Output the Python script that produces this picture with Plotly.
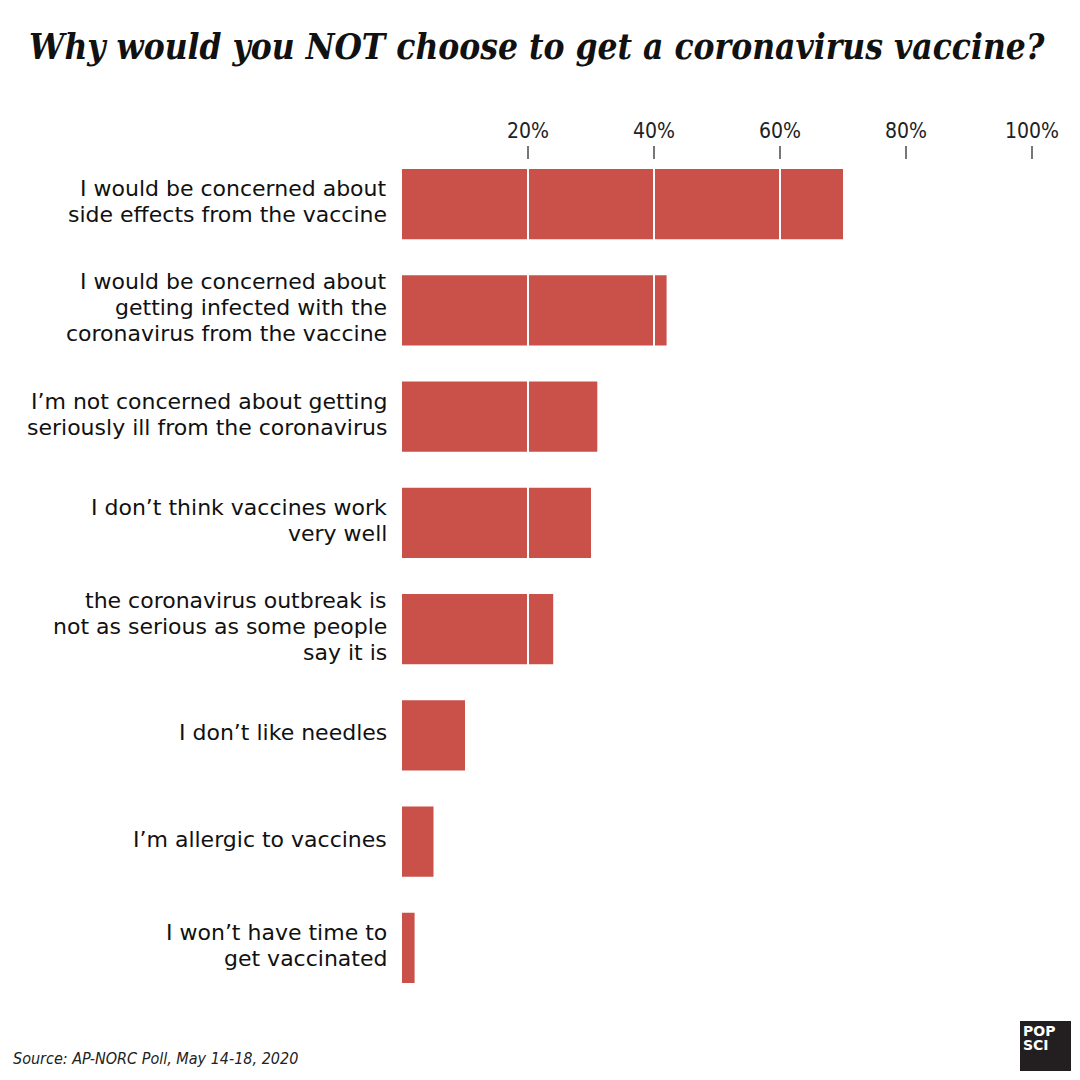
import plotly.graph_objects as go

title = "Why would you NOT choose to get a coronavirus vaccine?"
source = "Source: AP-NORC Poll, May 14-18, 2020"

categories = [
    "I would be concerned about<br>side effects from the vaccine",
    "I would be concerned about<br>getting infected with the<br>coronavirus from the vaccine",
    "I\u2019m not concerned about getting<br>seriously ill from the coronavirus",
    "I don\u2019t think vaccines work<br>very well",
    "the coronavirus outbreak is<br>not as serious as some people<br>say it is",
    "I don\u2019t like needles",
    "I\u2019m allergic to vaccines",
    "I won\u2019t have time to<br>get vaccinated",
]
values = [70, 42, 31, 30, 24, 10, 5, 2]
tick_vals = [20, 40, 60, 80, 100]
tick_text = ["20%", "40%", "60%", "80%", "100%"]

W = H = 1080
L, R, T, B = 402, 48, 160, 79
PW, PH = W - L - R, H - T - B

def px_x(px):
    return (px - L) / PW

def px_y(py):
    return (H - B - py) / PH

BAR = "#C9514A"

fig = go.Figure()
fig.add_trace(go.Bar(
    x=values, y=categories, orientation="h",
    marker=dict(color=BAR, line=dict(width=0)),
    hoverinfo="skip",
))

shapes = []
for v in tick_vals:
    shapes.append(dict(type="line", xref="x", yref="paper", x0=v, x1=v, y0=0, y1=1,
                       line=dict(color="white", width=2), layer="above"))
# logo
shapes.append(dict(type="rect", xref="paper", yref="paper",
                   x0=px_x(1020), x1=px_x(1071), y0=px_y(1071), y1=px_y(1021),
                   fillcolor="#231F20", line=dict(width=0), layer="above"))

annotations = []
LINE = 26
for i, cat in enumerate(categories):
    lines = cat.split("<br>")
    n = len(lines)
    for j, ln in enumerate(lines):
        annotations.append(dict(
            x=0, y=cat, xref="x", yref="y", text=ln, showarrow=False,
            xanchor="right", yanchor="middle", xshift=-13,
            yshift=((n - 1) / 2 - j) * LINE + 2.5,
            font=dict(family="DejaVu Sans", size=22, color="#111"),
        ))

annotations.append(dict(
    x=px_x(537), y=px_y(46), xref="paper", yref="paper", text="<b><i>" + title + "</i></b>",
    showarrow=False, xanchor="center", yanchor="middle",
    font=dict(family="DejaVu Serif Condensed", size=35, color="#111"),
))
annotations.append(dict(
    x=px_x(11), y=px_y(1058), xref="paper", yref="paper", text="<i>" + source + "</i>",
    showarrow=False, xanchor="left", yanchor="middle",
    font=dict(family="DejaVu Sans Condensed", size=16, color="#222"),
))
for txt, py in (("POP", 1031), ("SCI", 1045)):
    annotations.append(dict(
        x=px_x(1021), y=px_y(py), xref="paper", yref="paper", text="<b>" + txt + "</b>",
        showarrow=False, xanchor="left", yanchor="middle", align="left",
        font=dict(family="DejaVu Sans", size=14, color="white"),
    ))

fig.update_layout(
    width=W, height=H,
    margin=dict(l=L, r=R, t=T, b=B, pad=0),
    paper_bgcolor="white", plot_bgcolor="white",
    showlegend=False,
    bargap=0.34,
    shapes=shapes,
    annotations=annotations,
    xaxis=dict(
        range=[0, 100], side="top", tickvals=tick_vals, ticktext=tick_text,
        ticks="outside", ticklen=13, tickwidth=1.5, tickcolor="#777",
        showgrid=False, zeroline=False, showline=False,
        tickfont=dict(family="DejaVu Sans Condensed", size=21, color="#222"),
        fixedrange=True,
    ),
    yaxis=dict(
        type="category", categoryorder="array", categoryarray=categories,
        range=[7.5, -0.415], autorange=False,
        showticklabels=False, showgrid=False, zeroline=False, showline=False,
        ticks="", fixedrange=True,
    ),
)

fig.write_html("out.html", config={"displayModeBar": False},
               post_script="document.body.style.margin='0';")
